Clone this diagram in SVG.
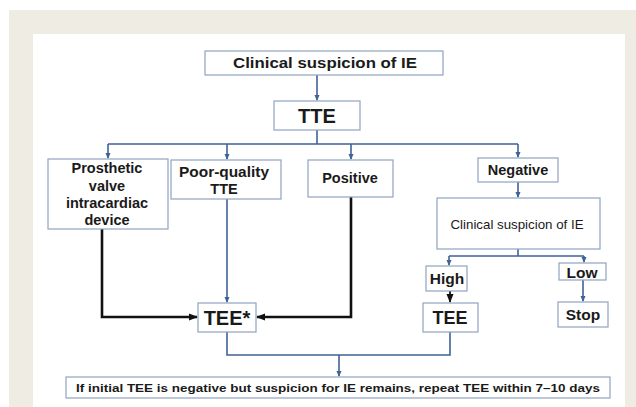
<svg xmlns="http://www.w3.org/2000/svg" width="636" height="407" viewBox="0 0 636 407">
<defs>
<style>
.box{fill:#fff;stroke:#8FA4C0;stroke-width:1.2}
.t{font-family:"Liberation Sans",Arial,sans-serif;font-weight:bold;fill:#1a1a1a;text-anchor:middle}
.blue{fill:none;stroke:#3F6396;stroke-width:1.6}
.black{fill:none;stroke:#111;stroke-width:2.6}
</style>
<marker id="ab" markerWidth="6" markerHeight="6" refX="5" refY="3" orient="auto" markerUnits="userSpaceOnUse">
<path d="M0,0.5 L6,3 L0,5.5 Z" fill="#3F6396"/>
</marker>
<marker id="ak" markerWidth="9" markerHeight="8" refX="8" refY="4" orient="auto" markerUnits="userSpaceOnUse">
<path d="M0,0.5 L9,4 L0,7.5 Z" fill="#111"/>
</marker>
</defs>
<rect x="0" y="0" width="636" height="407" fill="#fff"/>
<rect x="9" y="10" width="627" height="397" fill="#EFECE3"/>
<rect x="33" y="34" width="592" height="373" fill="#fff"/>

<g id="connectors">
<path class="blue" d="M317,75 V100" marker-end="url(#ab)"/>
<path class="blue" d="M317,130 V144 M108,144 H518"/>
<path class="blue" d="M108,144 V158" marker-end="url(#ab)"/>
<path class="blue" d="M227,144 V159" marker-end="url(#ab)"/>
<path class="blue" d="M351,144 V159" marker-end="url(#ab)"/>
<path class="blue" d="M518,144 V157" marker-end="url(#ab)"/>
<path class="blue" d="M518,182 V197" marker-end="url(#ab)"/>
<path class="blue" d="M518,249 V256 M449,256 H584"/>
<path class="blue" d="M449,256 V265" marker-end="url(#ab)"/>
<path class="blue" d="M584,256 V262" marker-end="url(#ab)"/>
<path class="blue" d="M583,280 V301" marker-end="url(#ab)"/>
<path class="blue" d="M227,199 V302" marker-end="url(#ab)"/>
<path class="black" style="stroke-width:1.8" d="M450,291 V302" marker-end="url(#ak)"/>
<path class="black" d="M102,229 V317 H197" marker-end="url(#ak)"/>
<path class="black" d="M351,197 V317 H257" marker-end="url(#ak)"/>
<path class="blue" d="M227,332 V355 H450 V332"/>
<path class="blue" d="M339,355 V376" marker-end="url(#ab)"/>
</g>

<g id="n-clinical">
<rect class="box" x="205" y="51" width="238" height="24"/>
<text class="t" x="325" y="68" font-size="15.5" textLength="184" lengthAdjust="spacingAndGlyphs">Clinical suspicion of IE</text>
</g>
<g id="n-tte">
<rect class="box" x="274" y="101" width="86" height="29"/>
<text class="t" x="317" y="123" font-size="20">TTE</text>
</g>
<g id="n-prosthetic">
<rect class="box" x="48" y="159" width="120" height="70"/>
<text class="t" font-size="14.5"><tspan x="107" y="173">Prosthetic</tspan><tspan x="107" y="191">valve</tspan><tspan x="107" y="208">intracardiac</tspan><tspan x="107" y="225">device</tspan></text>
</g>
<g id="n-poor">
<rect class="box" x="171" y="160" width="110" height="39"/>
<text class="t" font-size="14.5"><tspan x="224" y="177" textLength="90" lengthAdjust="spacingAndGlyphs">Poor-quality</tspan><tspan x="224" y="194">TTE</tspan></text>
</g>
<g id="n-positive">
<rect class="box" x="308" y="160" width="85" height="37"/>
<text class="t" x="350" y="183" font-size="14.5">Positive</text>
</g>
<g id="n-negative">
<rect class="box" x="478" y="158" width="80" height="24"/>
<text class="t" x="518" y="175" font-size="14.5">Negative</text>
</g>
<g id="n-clinical2">
<rect class="box" x="437" y="198" width="163" height="51"/>
<text class="t" x="517" y="229" font-size="13.3" style="font-weight:normal">Clinical suspicion of IE</text>
</g>
<g id="n-high">
<rect class="box" x="426" y="266" width="41" height="25"/>
<text class="t" x="447" y="284" font-size="15.5">High</text>
</g>
<g id="n-low">
<rect class="box" x="559" y="263" width="47" height="17"/>
<text class="t" x="582" y="278" font-size="15.5">Low</text>
</g>
<g id="n-tee">
<rect class="box" x="423" y="303" width="55" height="29"/>
<text class="t" x="450" y="324" font-size="18">TEE</text>
</g>
<g id="n-stop">
<rect class="box" x="558" y="302" width="50" height="25"/>
<text class="t" x="583" y="320" font-size="15.5">Stop</text>
</g>
<g id="n-teestar">
<rect class="box" x="198" y="303" width="58" height="29"/>
<text class="t" x="227" y="325" font-size="20">TEE*</text>
</g>
<g id="n-bottom">
<rect class="box" x="66" y="377" width="544" height="21"/>
<text class="t" x="338" y="392" font-size="11.5" textLength="524" lengthAdjust="spacingAndGlyphs">If initial TEE is negative but suspicion for IE remains, repeat TEE within 7–10 days</text>
</g>
</svg>
